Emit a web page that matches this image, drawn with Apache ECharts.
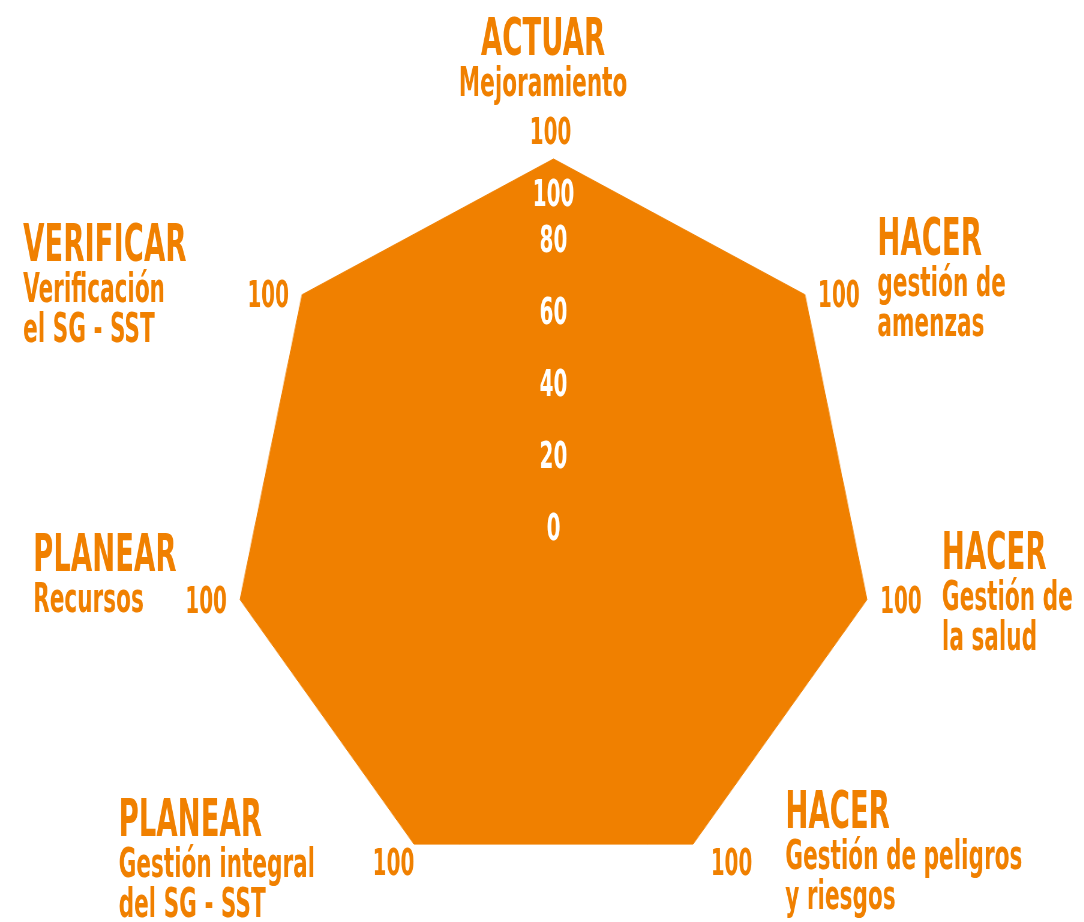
<!DOCTYPE html>
<html>
<head>
<meta charset="utf-8">
<script src="https://cdn.jsdelivr.net/npm/echarts@6/dist/echarts.min.js"></script>
<style>
html, body { margin: 0; padding: 0; background: #fff; overflow: hidden; }
#wrap { position: relative; width: 1084px; height: 922px; overflow: hidden; }
/* the polygon is squeezed horizontally in the original, text even more (condensed font) */
#shape { position: absolute; left: 0; top: 0; width: 1215px; height: 922px; transform: scaleX(0.892); transform-origin: 0 0; }
#text { position: absolute; left: 0; top: 0; width: 1807px; height: 922px; transform: scaleX(0.6); transform-origin: 0 0; }
</style>
</head>
<body>
<div id="wrap"><div id="shape"></div><div id="text"></div></div>
<script>
// indicators, counter-clockwise from the top
var titles = ['ACTUAR', 'VERIFICAR', 'PLANEAR', 'PLANEAR', 'HACER', 'HACER', 'HACER'];
var subtitles = [
  ['Mejoramiento'],
  ['Verificación', 'el SG - SST'],
  ['Recursos'],
  ['Gestión integral', 'del SG - SST'],
  ['Gestión de peligros', 'y riesgos'],
  ['Gestión de', 'la salud'],
  ['gestión de', 'amenzas']
];
var values = [100, 100, 100, 100, 100, 100, 100];
var axisMin = 0;
var axisMax = 100;
var axisStep = 20;

var ORANGE = '#f08000';
var FONT = '"DejaVu Sans Condensed", "Liberation Sans Narrow", "DejaVu Sans", sans-serif';
var S1 = 0.892, S2 = 0.6;
var screenCx = 553.5, cy = 519.4, radius = 360.4;

// horizontal padding of each name block (text-layer units), and spacer lines [above, below]
var namePadX = [35, 330, 277, 241, 230, 296, 258];
var nameSpacer = [[0, 53], [0, 14], [0, 43], [38, 0], [21, 0], [0, 7], [0, 26]];

var rich = {};
var textIndicator = titles.map(function (t, i) {
  var px = namePadX[i];
  var pad = i <= 3 ? [0, px, 0, 0] : [0, 0, 0, px];
  var align = i === 0 ? 'center' : 'left';
  var base = { fontFamily: FONT, fontWeight: 'bold', color: ORANGE, align: align, padding: pad };
  rich['t' + i] = Object.assign({}, base, { fontSize: 51, lineHeight: 48 });
  rich['s' + i] = Object.assign({}, base, { fontSize: 40, lineHeight: 40 });
  rich['a' + i] = { fontSize: 1, lineHeight: nameSpacer[i][0] || 1, align: align };
  rich['b' + i] = { fontSize: 1, lineHeight: nameSpacer[i][1] || 1, align: align };
  var lines = [];
  if (nameSpacer[i][0]) lines.push('{a' + i + '| }');
  lines.push('{t' + i + '|' + t + '}');
  subtitles[i].forEach(function (s) { lines.push('{s' + i + '|' + s + '}'); });
  if (nameSpacer[i][1]) lines.push('{b' + i + '| }');
  return { name: lines.join('\n'), min: axisMin, max: axisMax, axisLabel: { show: i === 0 } };
});
var shapeIndicator = titles.map(function (t) {
  return { name: t, min: axisMin, max: axisMax };
});

var hidden = {
  axisLine: { show: false },
  axisTick: { show: false },
  splitLine: { show: false },
  splitArea: { show: false }
};

var shapeChart = echarts.init(document.getElementById('shape'));
shapeChart.setOption({
  animation: false,
  backgroundColor: '#fff',
  radar: Object.assign({
    center: [screenCx / S1, cy],
    radius: radius,
    startAngle: 90,
    splitNumber: (axisMax - axisMin) / axisStep,
    shape: 'polygon',
    indicator: shapeIndicator,
    axisName: { show: false },
    axisLabel: { show: false }
  }, hidden),
  series: [{
    type: 'radar',
    symbol: 'none',
    lineStyle: { width: 1, color: ORANGE },
    areaStyle: { color: ORANGE, opacity: 1 },
    data: [{ value: values, name: 'SG-SST' }]
  }]
});

var textChart = echarts.init(document.getElementById('text'));
var c2 = [screenCx / S2, cy];
textChart.setOption({
  animation: false,
  radar: Object.assign({
    center: c2,
    radius: radius,
    startAngle: 90,
    splitNumber: (axisMax - axisMin) / axisStep,
    shape: 'polygon',
    nameGap: 0,
    indicator: textIndicator,
    axisName: { color: ORANGE, fontFamily: FONT, fontWeight: 'bold', rich: rich },
    axisLabel: {
      show: true,
      showMinLabel: true,
      showMaxLabel: true,
      hideOverlap: false,
      margin: 0,
      align: 'center',
      color: '#fff',
      fontFamily: FONT,
      fontWeight: 'bold',
      fontSize: 37,
      formatter: function (v) {
        return (v === axisMax ? '{m| }' : '{n| }') + '\n{v|' + v + '}';
      },
      rich: {
        n: { fontSize: 1, lineHeight: 22 },
        m: { fontSize: 1, lineHeight: 74 },
        v: { color: '#fff', fontFamily: FONT, fontWeight: 'bold', fontSize: 37, lineHeight: 22 }
      }
    }
  }, hidden),
  series: [{
    type: 'radar',
    symbol: 'circle',
    symbolSize: 0.5,
    itemStyle: { color: ORANGE },
    lineStyle: { width: 0, opacity: 0 },
    label: {
      show: true,
      position: 'inside',
      color: ORANGE,
      fontFamily: FONT,
      fontWeight: 'bold',
      fontSize: 37
    },
    labelLayout: function (params) {
      var r = params.rect;
      var ux = (r.x + r.width / 2 - c2[0]) / radius;
      var uy = (r.y + r.height / 2 - c2[1]) / radius;
      var sx = screenCx + ux * radius * S1;
      var sy = cy + uy * radius;
      var ox, oy;
      if (Math.abs(ux) < 0.01) {
        ox = -3; oy = -25;
      } else {
        ox = 34 * ux / Math.max(Math.abs(ux), 0.5) + (uy > 0.5 ? 9 : 0);
        oy = 3 + 22 * Math.pow(Math.max(uy, 0), 2);
      }
      return { x: (sx + ox) / S2, y: sy + oy, align: 'center', verticalAlign: 'middle' };
    },
    data: [{ value: values, name: 'SG-SST' }]
  }]
});
</script>
</body>
</html>
